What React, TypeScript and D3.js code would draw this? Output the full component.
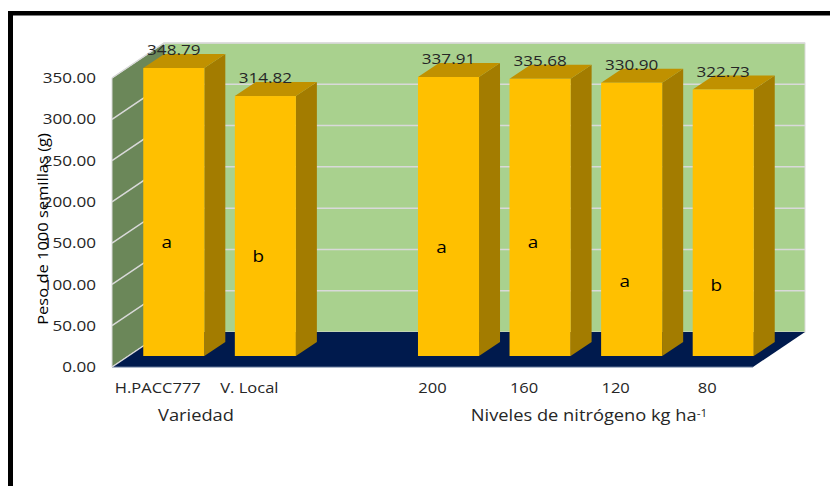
import { useEffect, useRef } from 'react';
import * as d3 from 'd3';

const categories = ['H.PACC777', 'V. Local', '', '200', '160', '120', '80'];
const values: (number | null)[] = [348.79, 314.82, null, 337.91, 335.68, 330.9, 322.73];
const letters = ['a', 'b', '', 'a', 'a', 'a', 'b'];
// height (in axis units) at which each significance letter sits
const letterLevels = [138, 121, 0, 132, 137, 90, 86];
const yTicks = [0, 50, 100, 150, 200, 250, 300, 350];

const FONT = '"Open Sans", sans-serif';
const STRETCH = 1.18; // the source picture is a bit wider than it is tall

export default function App() {
  const svgRef = useRef<SVGSVGElement>(null);

  useEffect(() => {
    if (!svgRef.current) return;
    const svg = d3.select(svgRef.current);
    svg.selectAll('*').remove();

    const x = d3.scaleBand<string>()
      .domain(categories.map((c, i) => `${i}`))
      .range([112, 753])
      .paddingInner(1 / 3)
      .paddingOuter(1 / 6);

    const y = d3.scaleLinear().domain([0, 350]).range([367, 78]);

    // 3d offsets: whole box, gap in front of the bar, bar depth
    const depth = { dx: 52, dy: -35 };
    const gap = { dx: 16, dy: -11 };
    const bar = { dx: 21, dy: -14 };

    const x0 = x.range()[0];
    const x1 = x.range()[1];
    const y0 = y(0);
    const yMax = y(350);

    const addText = (px: number, py: number, label: string, size: number, anchor = 'middle', fill = '#262626') =>
      svg.append('text')
        .attr('transform', `translate(${px},${py}) scale(${STRETCH},1)`)
        .attr('dy', '0.35em')
        .attr('text-anchor', anchor)
        .attr('font-family', FONT)
        .attr('font-size', size)
        .attr('fill', fill)
        .text(label);

    // Frame
    svg.append('rect').attr('x', 8).attr('y', 11).attr('width', 822).attr('height', 4.5).attr('fill', '#000');
    svg.append('rect').attr('x', 8).attr('y', 11).attr('width', 5).attr('height', 475).attr('fill', '#000');

    // Back wall
    svg.append('rect')
      .attr('x', x0 + depth.dx).attr('y', yMax + depth.dy)
      .attr('width', x1 - x0).attr('height', y0 - yMax)
      .attr('fill', '#a9d18e').attr('stroke', '#d9d9d9').attr('stroke-width', 1);

    // Left wall
    svg.append('polygon')
      .attr('points', [
        [x0, y0], [x0, yMax], [x0 + depth.dx, yMax + depth.dy], [x0 + depth.dx, y0 + depth.dy],
      ].join(' '))
      .attr('fill', '#6b8759').attr('stroke', '#d9d9d9').attr('stroke-width', 1);

    // Floor
    svg.append('polygon')
      .attr('points', [
        [x0, y0], [x1, y0], [x1 + depth.dx, y0 + depth.dy], [x0 + depth.dx, y0 + depth.dy],
      ].join(' '))
      .attr('fill', '#001a4d');
    svg.append('line').attr('x1', x0).attr('x2', x1).attr('y1', y0).attr('y2', y0)
      .attr('stroke', '#5f7396').attr('stroke-width', 1);
    svg.append('line').attr('x1', x0).attr('x2', x0 + depth.dx)
      .attr('y1', y0).attr('y2', y0 + depth.dy)
      .attr('stroke', '#d9d9d9').attr('stroke-width', 1.5);

    // Grid lines
    const grid = svg.append('g').attr('stroke', '#d9d9d9').attr('stroke-width', 1.5).attr('fill', 'none');
    yTicks.filter(t => t > 0).forEach(t => {
      grid.append('path').attr('d', d3.line()([
        [x0, y(t)],
        [x0 + depth.dx, y(t) + depth.dy],
        [x1 + depth.dx, y(t) + depth.dy],
      ]));
    });

    // Bars
    const bars = svg.append('g');
    categories.forEach((c, i) => {
      const v = values[i];
      if (v === null) return;
      const left = x(`${i}`)! + gap.dx;
      const right = left + x.bandwidth();
      const bottom = y0 + gap.dy;
      const top = y(v) + gap.dy;
      bars.append('polygon')
        .attr('points', [[right, bottom], [right, top], [right + bar.dx, top + bar.dy], [right + bar.dx, bottom + bar.dy]].join(' '))
        .attr('fill', '#a37c00');
      bars.append('polygon')
        .attr('points', [[left, top], [right, top], [right + bar.dx, top + bar.dy], [left + bar.dx, top + bar.dy]].join(' '))
        .attr('fill', '#c09100');
      bars.append('rect')
        .attr('x', left).attr('y', top)
        .attr('width', x.bandwidth()).attr('height', bottom - top)
        .attr('fill', '#ffc000');

      addText((left + right) / 2, top - 18, v.toFixed(2), 14.5);
      addText((left + right) / 2 - 7, y(letterLevels[i]) + gap.dy, letters[i], 16, 'middle', '#000');
      addText((left + right) / 2 - 16, 388, c, 14);
    });

    // Y axis labels
    yTicks.forEach(t => addText(96, y(t), t.toFixed(2), 14.5, 'end'));

    // Titles
    svg.append('text')
      .attr('transform', 'translate(43,229) rotate(-90) scale(1.1,1)')
      .attr('dy', '0.35em')
      .attr('text-anchor', 'middle')
      .attr('font-family', FONT).attr('font-size', 15).attr('fill', '#000')
      .text('Peso de 1000 semillas (g)');

    addText(196, 416, 'Variedad', 15.5);

    const nTitle = addText(589, 416, 'Niveles de nitrógeno kg ha', 15.5);
    nTitle.append('tspan').attr('dy', '-0.05em').attr('baseline-shift', '35%').attr('font-size', 10).text('-1');
  }, []);

  return (
    <svg
      ref={svgRef}
      width={830}
      height={486}
      style={{ position: 'absolute', left: 0, top: 0, background: '#fff' }}
    />
  );
}
